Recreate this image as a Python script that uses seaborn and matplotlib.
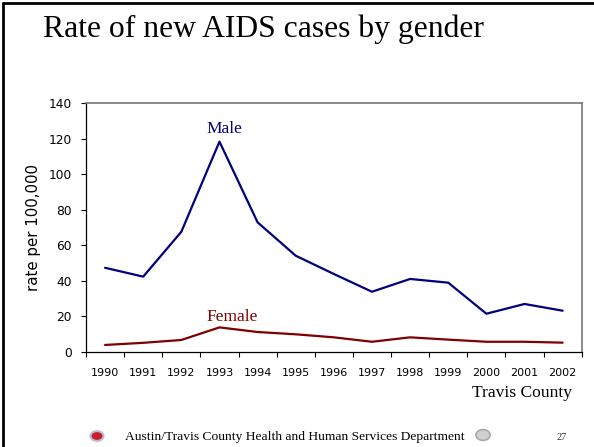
import matplotlib
matplotlib.use("Agg")
import matplotlib.pyplot as plt
from matplotlib.lines import Line2D
from matplotlib.patches import Circle
import seaborn as sns
import numpy as np
import pandas as pd

# values (rate per 100,000)
years = [1990, 1991, 1992, 1993, 1994, 1995, 1996, 1997, 1998, 1999, 2000, 2001, 2002]
male = [47.3, 42.3, 67.6, 118.4, 72.9, 54.1, 43.8, 33.8, 41.0, 38.9, 21.4, 26.9, 23.1]
female = [3.8, 5.0, 6.6, 13.7, 11.1, 9.8, 8.1, 5.6, 8.1, 6.8, 5.6, 5.6, 5.1]
y_ticks = [0, 20, 40, 60, 80, 100, 120, 140]

df = pd.DataFrame({
    "year": years * 2,
    "rate": male + female,
    "gender": ["Male"] * len(years) + ["Female"] * len(years),
})
colors = {"Male": "#000080", "Female": "#800000"}

sns.set_theme(style="white")
plt.rcParams["font.family"] = ["DejaVu Sans"]
plt.rcParams.update({"text.color": "black", "axes.labelcolor": "black",
                     "xtick.color": "black", "ytick.color": "black"})

fig = plt.figure(figsize=(5.94, 4.47), dpi=100)
ax = fig.add_axes([0.1448, 0.2132, 0.8345, 0.5557])

sns.lineplot(data=df, x="year", y="rate", hue="gender", palette=colors,
             linewidth=1.6, legend=False, ax=ax)

ax.set_xlim(1989.5, 2002.5)
ax.set_ylim(0, 140)
ax.set_yticks(y_ticks)
ax.tick_params(axis="y", direction="out", length=3.6, width=0.8, colors="black",
               labelsize=8.8, pad=6.5, left=True)
# tick marks fall between categories, labels sit under the categories
ax.set_xticks(np.arange(1989.5, 2003, 1))
ax.set_xticklabels([])
ax.set_xticks(years, minor=True)
ax.set_xticklabels([str(y) for y in years], minor=True)
ax.tick_params(axis="x", which="major", direction="out", length=3.6, width=0.8,
               colors="black", bottom=True)
ax.tick_params(axis="x", which="minor", length=0, labelsize=8, pad=11.5, bottom=True,
               colors="black")

for side in ["left", "bottom"]:
    ax.spines[side].set_color("black")
    ax.spines[side].set_linewidth(0.9)
for side in ["top", "right"]:
    ax.spines[side].set_color("#777777")
    ax.spines[side].set_linewidth(1.2)

ax.set_xlabel("")
ax.set_ylabel("rate per 100,000", fontsize=10.8, va="center", color="black")
ax.yaxis.set_label_coords(-0.105, 0.5)

serif = ["Liberation Serif", "DejaVu Serif"]
ax.text(1992.67, 123.1, "Male", color=colors["Male"], fontsize=12.5,
        family=serif, va="baseline", ha="left")
ax.text(1992.67, 17.3, "Female", color=colors["Female"], fontsize=12.5,
        family=serif, va="baseline", ha="left")

fig.text(0.0724, 1 - 37 / 447, "Rate of new AIDS cases by gender", fontsize=22.8,
         family=serif, va="baseline", ha="left", color="black")
fig.text(0.963, 1 - 396.7 / 447, "Travis County", fontsize=12.6, family=serif,
         va="baseline", ha="right", color="black")
fig.text(125 / 594, 1 - 440 / 447,
         "Austin/Travis County Health and Human Services Department",
         fontsize=9.7, family=serif, va="baseline", ha="left", color="black")
fig.text(562 / 594, 1 - 440 / 447, "27", fontsize=7.5, family=serif,
         va="baseline", ha="center", color="#333333")

# small logos in the footer
fig.patches.append(Circle((97 / 594, 1 - 436 / 447), 0.011, transform=fig.transFigure,
                          facecolor="#c8202a", edgecolor="#b8bfd8", linewidth=1.5))
fig.patches.append(Circle((483 / 594, 1 - 435 / 447), 0.012, transform=fig.transFigure,
                          facecolor="#d0d0d0", edgecolor="#a8a8a8", linewidth=1.2))

# slide frame (left and top edges visible)
fig.lines.append(Line2D([2.5 / 594, 2.5 / 594], [0, 1 - 2.5 / 447],
                        transform=fig.transFigure, color="black", linewidth=2))
fig.lines.append(Line2D([2.5 / 594, 1], [1 - 2.5 / 447, 1 - 2.5 / 447],
                        transform=fig.transFigure, color="black", linewidth=2))

fig.savefig("out.png", dpi=100)
